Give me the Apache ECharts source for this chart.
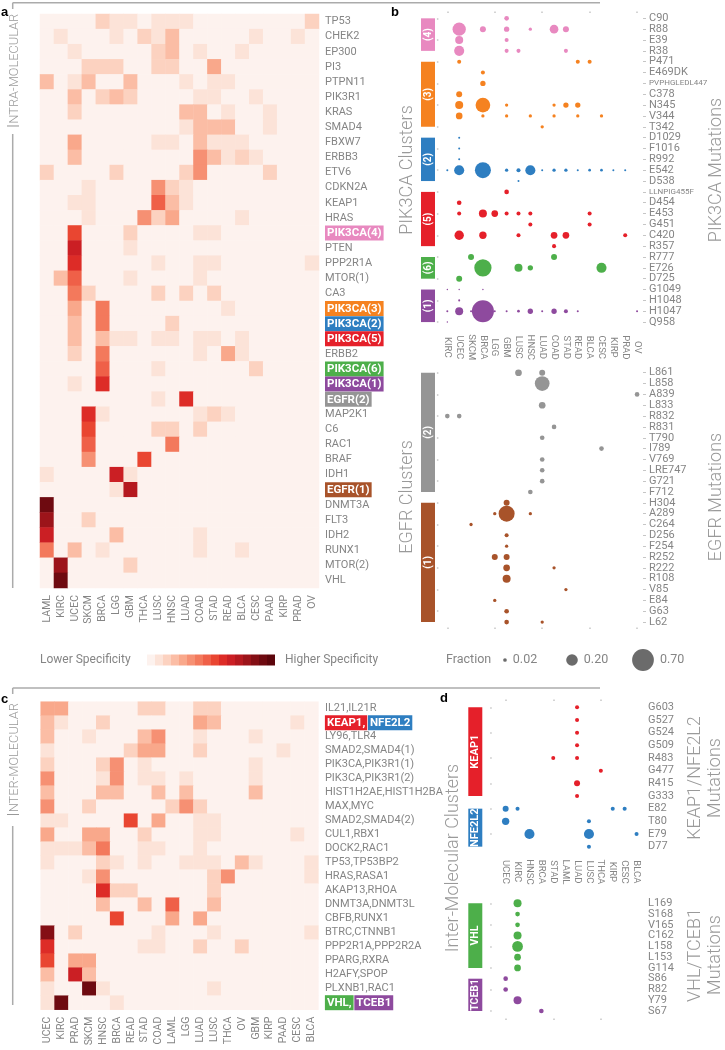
<!DOCTYPE html>
<html><head><meta charset="utf-8">
<script src="https://cdn.jsdelivr.net/npm/echarts@6/dist/echarts.min.js"></script>
<style>html,body{margin:0;padding:0;background:#fff}#chart{width:725px;height:1050px}</style>
</head><body><div id="chart"></div>
<script>
// ================= DATA =================
// Panel a: intra-molecular heatmap
const aCancers = ['LAML','KIRC','UCEC','SKCM','BRCA','LGG','GBM','THCA','LUSC','HNSC','LUAD','COAD','STAD','READ','BLCA','CESC','PAAD','KIRP','PRAD','OV'];
const aGenes = ['TP53','CHEK2','EP300','PI3','PTPN11','PIK3R1','KRAS','SMAD4','FBXW7','ERBB3','ETV6','CDKN2A','KEAP1','HRAS','PIK3CA(4)','PTEN','PPP2R1A','MTOR(1)','CA3','PIK3CA(3)','PIK3CA(2)','PIK3CA(5)','ERBB2','PIK3CA(6)','PIK3CA(1)','EGFR(2)','MAP2K1','C6','RAC1','BRAF','IDH1','EGFR(1)','DNMT3A','FLT3','IDH2','RUNX1','MTOR(2)','VHL'];
// specificity level (0 = background) [gene, cancer, level]
const aLevels = [
 ['TP53','BRCA',2],['TP53','LGG',1],['TP53','GBM',1],['TP53','LUSC',1],['TP53','HNSC',1],['TP53','LUAD',1],['TP53','OV',2],
 ['CHEK2','KIRC',1],['CHEK2','LGG',1],['CHEK2','THCA',2],['CHEK2','LUSC',1],['CHEK2','HNSC',3],['CHEK2','CESC',1],['CHEK2','PRAD',1],
 ['EP300','UCEC',1],['EP300','LUSC',2],['EP300','HNSC',3],['EP300','COAD',1],['EP300','BLCA',1],
 ['PI3','SKCM',2],['PI3','BRCA',2],['PI3','LGG',2],['PI3','LUSC',2],['PI3','HNSC',2],['PI3','STAD',4],
 ['PTPN11','LAML',3],['PTPN11','UCEC',1],['PTPN11','SKCM',3],['PTPN11','GBM',3],['PTPN11','LUAD',1],['PTPN11','STAD',1],['PTPN11','READ',1],
 ['PIK3R1','UCEC',3],['PIK3R1','BRCA',2],['PIK3R1','LGG',3],['PIK3R1','GBM',2],['PIK3R1','COAD',1],['PIK3R1','STAD',1],['PIK3R1','CESC',1],
 ['KRAS','UCEC',2],['KRAS','LUAD',3],['KRAS','COAD',3],['KRAS','READ',1],['KRAS','PAAD',1],
 ['SMAD4','LUAD',1],['SMAD4','COAD',3],['SMAD4','STAD',3],['SMAD4','READ',3],['SMAD4','PAAD',1],
 ['FBXW7','UCEC',4],['FBXW7','LUSC',1],['FBXW7','HNSC',1],['FBXW7','COAD',3],['FBXW7','STAD',1],['FBXW7','READ',1],['FBXW7','BLCA',1],
 ['ERBB3','UCEC',3],['ERBB3','COAD',5],['ERBB3','STAD',3],['ERBB3','READ',1],['ERBB3','BLCA',2],['ERBB3','CESC',1],
 ['ETV6','LAML',2],['ETV6','LGG',2],['ETV6','LUAD',2],['ETV6','COAD',5],['ETV6','PAAD',2],
 ['CDKN2A','SKCM',1],['CDKN2A','LUSC',5],['CDKN2A','HNSC',2],['CDKN2A','LUAD',1],
 ['KEAP1','UCEC',1],['KEAP1','SKCM',1],['KEAP1','LUSC',7],['KEAP1','HNSC',3],['KEAP1','LUAD',1],
 ['HRAS','SKCM',1],['HRAS','THCA',5],['HRAS','LUSC',2],['HRAS','HNSC',4],['HRAS','BLCA',1],
 ['PIK3CA(4)','UCEC',8],['PIK3CA(4)','GBM',2],['PIK3CA(4)','COAD',1],['PIK3CA(4)','STAD',1],
 ['PTEN','UCEC',10],['PTEN','GBM',1],
 ['PPP2R1A','UCEC',9],['PPP2R1A','LUSC',1],['PPP2R1A','COAD',1],['PPP2R1A','STAD',1],['PPP2R1A','OV',1],
 ['MTOR(1)','KIRC',3],['MTOR(1)','UCEC',7],['MTOR(1)','GBM',1],['MTOR(1)','COAD',1],
 ['CA3','UCEC',6],['CA3','SKCM',2],['CA3','LUSC',2],['CA3','LUAD',2],['CA3','STAD',2],
 ['PIK3CA(3)','UCEC',4],['PIK3CA(3)','BRCA',6],['PIK3CA(3)','READ',1],
 ['PIK3CA(2)','UCEC',3],['PIK3CA(2)','BRCA',6],['PIK3CA(2)','HNSC',2],
 ['PIK3CA(5)','UCEC',3],['PIK3CA(5)','BRCA',3],['PIK3CA(5)','LGG',1],['PIK3CA(5)','GBM',1],['PIK3CA(5)','LUSC',1],['PIK3CA(5)','HNSC',1],['PIK3CA(5)','COAD',1],['PIK3CA(5)','STAD',1],['PIK3CA(5)','BLCA',1],
 ['ERBB2','UCEC',2],['ERBB2','BRCA',6],['ERBB2','COAD',1],['ERBB2','READ',4],['ERBB2','BLCA',1],
 ['PIK3CA(6)','BRCA',7],['PIK3CA(6)','LUSC',1],['PIK3CA(6)','CESC',2],
 ['PIK3CA(1)','UCEC',1],['PIK3CA(1)','BRCA',9],
 ['EGFR(2)','LUSC',1],['EGFR(2)','LUAD',9],
 ['MAP2K1','SKCM',9],['MAP2K1','BRCA',1],['MAP2K1','COAD',1],['MAP2K1','STAD',2],['MAP2K1','READ',1],
 ['C6','SKCM',8],['C6','LUSC',2],['C6','HNSC',2],['C6','COAD',2],
 ['RAC1','SKCM',7],['RAC1','HNSC',6],
 ['BRAF','SKCM',5],['BRAF','THCA',8],
 ['IDH1','LAML',1],['IDH1','LGG',10],['IDH1','GBM',1],
 ['EGFR(1)','LGG',1],['EGFR(1)','GBM',11],
 ['DNMT3A','LAML',14],
 ['FLT3','LAML',12],['FLT3','SKCM',2],
 ['IDH2','LAML',10],['IDH2','LGG',3],['IDH2','COAD',1],
 ['RUNX1','LAML',6],['RUNX1','UCEC',3],['RUNX1','BRCA',1],['RUNX1','COAD',1],['RUNX1','BLCA',1],
 ['MTOR(2)','KIRC',12],['MTOR(2)','GBM',2],
 ['VHL','KIRC',14]
];

// Panel c: inter-molecular heatmap
const cCancers = ['UCEC','KIRC','PRAD','SKCM','HNSC','BRCA','READ','STAD','COAD','LAML','LGG','LUAD','LUSC','THCA','OV','GBM','KIRP','PAAD','CESC','BLCA'];
const cPairs = ['IL21,IL21R','KEAP1,NFE2L2','LY96,TLR4','SMAD2,SMAD4(1)','PIK3CA,PIK3R1(1)','PIK3CA,PIK3R1(2)','HIST1H2AE,HIST1H2BA','MAX,MYC','SMAD2,SMAD4(2)','CUL1,RBX1','DOCK2,RAC1','TP53,TP53BP2','HRAS,RASA1','AKAP13,RHOA','DNMT3A,DNMT3L','CBFB,RUNX1','BTRC,CTNNB1','PPP2R1A,PPP2R2A','PPARG,RXRA','H2AFY,SPOP','PLXNB1,RAC1','VHL,TCEB1'];
const cLevels = [
 ['IL21,IL21R','UCEC',4],['IL21,IL21R','KIRC',4],['IL21,IL21R','STAD',2],['IL21,IL21R','COAD',2],['IL21,IL21R','LUAD',2],['IL21,IL21R','LUSC',2],
 ['KEAP1,NFE2L2','UCEC',3],['KEAP1,NFE2L2','KIRC',1],['KEAP1,NFE2L2','HNSC',2],['KEAP1,NFE2L2','LUAD',4],['KEAP1,NFE2L2','LUSC',3],['KEAP1,NFE2L2','CESC',1],
 ['LY96,TLR4','UCEC',3],['LY96,TLR4','SKCM',1],['LY96,TLR4','STAD',3],['LY96,TLR4','COAD',5],['LY96,TLR4','LUAD',1],['LY96,TLR4','GBM',1],
 ['SMAD2,SMAD4(1)','UCEC',1],['SMAD2,SMAD4(1)','READ',2],['SMAD2,SMAD4(1)','STAD',4],['SMAD2,SMAD4(1)','COAD',4],['SMAD2,SMAD4(1)','LUAD',2],['SMAD2,SMAD4(1)','PAAD',1],
 ['PIK3CA,PIK3R1(1)','UCEC',2],['PIK3CA,PIK3R1(1)','HNSC',2],['PIK3CA,PIK3R1(1)','BRCA',5],['PIK3CA,PIK3R1(1)','STAD',1],['PIK3CA,PIK3R1(1)','GBM',1],
 ['PIK3CA,PIK3R1(2)','UCEC',5],['PIK3CA,PIK3R1(2)','HNSC',1],['PIK3CA,PIK3R1(2)','BRCA',5],['PIK3CA,PIK3R1(2)','STAD',1],['PIK3CA,PIK3R1(2)','COAD',1],['PIK3CA,PIK3R1(2)','LGG',1],['PIK3CA,PIK3R1(2)','GBM',1],
 ['HIST1H2AE,HIST1H2BA','UCEC',3],['HIST1H2AE,HIST1H2BA','HNSC',3],['HIST1H2AE,HIST1H2BA','BRCA',3],['HIST1H2AE,HIST1H2BA','COAD',3],['HIST1H2AE,HIST1H2BA','LGG',3],['HIST1H2AE,HIST1H2BA','GBM',3],
 ['MAX,MYC','UCEC',5],['MAX,MYC','SKCM',2],['MAX,MYC','LAML',2],['MAX,MYC','LGG',5],['MAX,MYC','LUAD',2],
 ['SMAD2,SMAD4(2)','UCEC',1],['SMAD2,SMAD4(2)','KIRC',1],['SMAD2,SMAD4(2)','READ',8],['SMAD2,SMAD4(2)','COAD',4],['SMAD2,SMAD4(2)','LUAD',1],['SMAD2,SMAD4(2)','LUSC',1],
 ['CUL1,RBX1','UCEC',4],['CUL1,RBX1','SKCM',4],['CUL1,RBX1','HNSC',4],['CUL1,RBX1','STAD',2],['CUL1,RBX1','LUAD',1],['CUL1,RBX1','LUSC',1],['CUL1,RBX1','CESC',1],
 ['DOCK2,RAC1','UCEC',1],['DOCK2,RAC1','KIRC',1],['DOCK2,RAC1','PRAD',1],['DOCK2,RAC1','SKCM',3],['DOCK2,RAC1','HNSC',6],['DOCK2,RAC1','STAD',1],['DOCK2,RAC1','COAD',1],['DOCK2,RAC1','LUAD',1],
 ['TP53,TP53BP2','UCEC',1],['TP53,TP53BP2','HNSC',2],['TP53,TP53BP2','BRCA',1],['TP53,TP53BP2','STAD',1],['TP53,TP53BP2','LGG',1],['TP53,TP53BP2','LUAD',1],['TP53,TP53BP2','LUSC',1],['TP53,TP53BP2','OV',3],['TP53,TP53BP2','GBM',1],['TP53,TP53BP2','BLCA',1],
 ['HRAS,RASA1','SKCM',1],['HRAS,RASA1','HNSC',5],['HRAS,RASA1','LUSC',2],['HRAS,RASA1','THCA',5],['HRAS,RASA1','BLCA',1],
 ['AKAP13,RHOA','HNSC',9],['AKAP13,RHOA','BRCA',2],['AKAP13,RHOA','READ',2],['AKAP13,RHOA','LUSC',2],
 ['DNMT3A,DNMT3L','HNSC',3],['DNMT3A,DNMT3L','STAD',3],['DNMT3A,DNMT3L','LAML',7],['DNMT3A,DNMT3L','LUSC',3],
 ['CBFB,RUNX1','BRCA',8],['CBFB,RUNX1','LAML',4],['CBFB,RUNX1','LUAD',4],
 ['BTRC,CTNNB1','UCEC',13],['BTRC,CTNNB1','PRAD',2],['BTRC,CTNNB1','COAD',1],['BTRC,CTNNB1','LUSC',1],['BTRC,CTNNB1','BLCA',1],
 ['PPP2R1A,PPP2R2A','UCEC',9],['PPP2R1A,PPP2R2A','STAD',1],['PPP2R1A,PPP2R2A','COAD',1],['PPP2R1A,PPP2R2A','LUAD',2],['PPP2R1A,PPP2R2A','OV',2],
 ['PPARG,RXRA','UCEC',8],['PPARG,RXRA','PRAD',4],['PPARG,RXRA','SKCM',4],
 ['H2AFY,SPOP','UCEC',3],['H2AFY,SPOP','PRAD',10],['H2AFY,SPOP','SKCM',3],
 ['PLXNB1,RAC1','UCEC',1],['PLXNB1,RAC1','SKCM',14],['PLXNB1,RAC1','HNSC',1],['PLXNB1,RAC1','LUSC',1],
 ['VHL,TCEB1','UCEC',1],['VHL,TCEB1','KIRC',14],['VHL,TCEB1','BRCA',1]
];

// Panel b: mutation fractions
const bCancers = ['KIRC','UCEC','SKCM','BRCA','LGG','GBM','LUSC','HNSC','LUAD','COAD','STAD','READ','BLCA','CESC','KIRP','PRAD','OV'];
const pik3caMutations = ['C90','R88','E39','R38','P471','E469DK','PVPHGLEDL447','C378','N345','V344','T342','D1029','F1016','R992','E542','D538','LLNPIG455F','D454','E453','G451','C420','R357','R777','E726','D725','G1049','H1048','H1047','Q958'];
const pik3caClusters = [['(4)',4],['(3)',7],['(2)',5],['(5)',6],['(6)',3],['(1)',4]];
const pik3caPoints = [
 ['C90','GBM',0.032],
 ['R88','UCEC',0.26],['R88','BRCA',0.053],['R88','GBM',0.042],['R88','HNSC',0.016],['R88','COAD',0.11],['R88','STAD',0.053],
 ['E39','UCEC',0.095],['E39','GBM',0.024],
 ['R38','UCEC',0.15],['R38','GBM',0.024],['R38','LUSC',0.024],['R38','STAD',0.024],
 ['P471','UCEC',0.024],['P471','READ',0.024],['P471','BLCA',0.024],
 ['E469DK','BRCA',0.024],
 ['PVPHGLEDL447','BRCA',0.042],
 ['C378','UCEC',0.053],
 ['N345','UCEC',0.095],['N345','BRCA',0.32],['N345','GBM',0.016],['N345','COAD',0.016],['N345','STAD',0.042],['N345','READ',0.042],
 ['V344','UCEC',0.066],['V344','BRCA',0.016],['V344','GBM',0.016],['V344','HNSC',0.016],['V344','COAD',0.016],['V344','READ',0.016],['V344','CESC',0.016],
 ['T342','LUAD',0.016],
 ['D1029','UCEC',0.006],['F1016','UCEC',0.006],['R992','UCEC',0.006],
 ['E542','KIRC',0.006],['E542','UCEC',0.15],['E542','BRCA',0.38],['E542','GBM',0.016],['E542','LUSC',0.024],['E542','HNSC',0.15],['E542','LUAD',0.006],['E542','COAD',0.016],['E542','STAD',0.016],['E542','READ',0.006],['E542','BLCA',0.011],['E542','CESC',0.011],['E542','KIRP',0.006],['E542','PRAD',0.006],
 ['D538','LUSC',0.006],
 ['LLNPIG455F','GBM',0.032],
 ['D454','UCEC',0.032],
 ['E453','UCEC',0.024],['E453','BRCA',0.095],['E453','LGG',0.066],['E453','GBM',0.024],['E453','LUSC',0.024],['E453','HNSC',0.024],['E453','BLCA',0.024],
 ['G451','HNSC',0.024],['G451','BLCA',0.024],
 ['C420','UCEC',0.13],['C420','BRCA',0.08],['C420','LUSC',0.024],['C420','COAD',0.066],['C420','STAD',0.066],['C420','PRAD',0.024],
 ['R357','COAD',0.024],
 ['R777','SKCM',0.053],['R777','COAD',0.053],
 ['E726','BRCA',0.44],['E726','LUSC',0.095],['E726','HNSC',0.042],['E726','CESC',0.15],
 ['D725','UCEC',0.053],
 ['G1049','KIRC',0.003],['G1049','UCEC',0.003],['G1049','BRCA',0.003],
 ['H1048','UCEC',0.006],
 ['H1047','KIRC',0.006],['H1047','UCEC',0.095],['H1047','SKCM',0.006],['H1047','BRCA',0.72],['H1047','LGG',0.006],['H1047','GBM',0.006],['H1047','LUSC',0.011],['H1047','HNSC',0.042],['H1047','LUAD',0.006],['H1047','COAD',0.042],['H1047','STAD',0.024],['H1047','READ',0.006],['H1047','OV',0.006],
 ['Q958','KIRC',0.003]
];
const egfrMutations = ['L861','L858','A839','L833','R832','R831','T790','I789','V769','LRE747','G721','F712','H304','A289','C264','D256','F254','R252','R222','R108','V85','E84','G63','L62'];
const egfrClusters = [['(2)',12],['(1)',12]];
const egfrPoints = [
 ['L861','LUSC',0.066],['L861','LUAD',0.053],['L858','LUAD',0.32],['A839','OV',0.032],['L833','LUAD',0.066],
 ['R832','KIRC',0.032],['R832','UCEC',0.032],['R831','COAD',0.032],['T790','LUAD',0.032],['I789','CESC',0.032],
 ['V769','LUAD',0.032],['LRE747','LUAD',0.032],['G721','LUAD',0.032],['F712','HNSC',0.032],
 ['H304','GBM',0.053],['A289','LGG',0.016],['A289','GBM',0.38],['A289','HNSC',0.016],['C264','SKCM',0.016],
 ['D256','GBM',0.024],['F254','GBM',0.016],['R252','LGG',0.053],['R252','GBM',0.053],['R222','GBM',0.066],['R222','COAD',0.016],
 ['R108','GBM',0.095],['V85','STAD',0.016],['E84','LGG',0.016],['G63','GBM',0.032],['L62','GBM',0.032],['L62','LUAD',0.016]
];

// Panel d
const dCancers = ['UCEC','KIRC','HNSC','BRCA','STAD','LAML','LUAD','LUSC','THCA','KIRP','CESC','BLCA'];
const keapMutations = ['G603','G527','G524','G509','R483','G477','R415','G333','E82','T80','E79','D77'];
const keapClusters = [['KEAP1',8],['NFE2L2',4]];
const keapPoints = [
 ['G603','LUAD',0.024],['G527','LUAD',0.024],['G524','LUAD',0.024],['G509','LUAD',0.024],
 ['R483','STAD',0.024],['R483','LUAD',0.024],['G477','THCA',0.024],['R415','LUAD',0.053],['G333','LUAD',0.024],
 ['E82','UCEC',0.053],['E82','KIRC',0.024],['E82','KIRP',0.024],['E82','CESC',0.024],
 ['T80','UCEC',0.08],['T80','LUSC',0.024],['E79','HNSC',0.15],['E79','LUSC',0.15],['E79','BLCA',0.024],['D77','LUSC',0.024]
];
const vhlMutations = ['L169','S168','V165','C162','L158','L153','G114','S86','R82','Y79','S67'];
const vhlClusters = [['VHL',7],['TCEB1',4]];
const vhlPoints = [
 ['L169','KIRC',0.095],['S168','KIRC',0.032],['V165','KIRC',0.032],['C162','KIRC',0.095],['L158','KIRC',0.17],
 ['L153','KIRC',0.066],['G114','KIRC',0.066],['S86','UCEC',0.032],['R82','UCEC',0.032],['Y79','KIRC',0.095],['S67','BRCA',0.032]
];
const fractionLegend = [0.02, 0.20, 0.70];

// ================= STYLE =================
const FONT = 'Roboto, "Liberation Sans", Arial, sans-serif';
const GRAY = '#858585';
const TICK = '#c6c6c6';
const palette = ['#FDF2EE','#FCE3D8','#FCD2C0','#FBBDA5','#F9A88B','#F69073','#F3795C','#EF6048','#E94631','#DD2C27','#CB1F24','#B5191F','#9C141A','#840F15','#6E0A10','#5C050B'];
const C = {pink:'#E889C0', orange:'#F58220', blue:'#2E7EC1', red:'#E5202A', green:'#4DAF4A', purple:'#8E4A9E', gray:'#959595', brown:'#A8532A'};
const pikColors = [C.pink, C.orange, C.blue, C.red, C.green, C.purple];
const egfrColors = [C.gray, C.brown];
const keapColors = [C.red, C.blue];
const vhlColors = [C.green, C.purple];
const aTags = {'PIK3CA(4)':C.pink,'PIK3CA(3)':C.orange,'PIK3CA(2)':C.blue,'PIK3CA(5)':C.red,'PIK3CA(6)':C.green,'PIK3CA(1)':C.purple,'EGFR(2)':C.gray,'EGFR(1)':C.brown};

// ================= HELPERS =================
function matrix(rows, cols, triples) {
  const m = {};
  triples.forEach(t => { m[t[0] + '|' + t[1]] = t[2]; });
  const out = [];
  rows.forEach((r, ri) => cols.forEach((c, ci) => out.push([ci, ri, m[r + '|' + c] || 0])));
  return out;
}
function points(rows, cols, pts) { return pts.map(p => [cols.indexOf(p[1]), rows.indexOf(p[0]), p[2]]); }
function rowColors(clusters, colors) { const a = []; clusters.forEach((c, i) => { for (let k = 0; k < c[1]; k++) a.push(colors[i]); }); return a; }
function clusterData(clusters) { let s = 0; return clusters.map((c, i) => { const d = [0, s, s + c[1] - 1, i]; s += c[1]; return d; }); }
const sizeOf = f => 26 * Math.sqrt(f);

const tagRich = {};
Object.keys(aTags).forEach((k, i) => { tagRich['t' + i] = {color:'#fff', fontWeight:'bold', fontSize:11.5, fontFamily:FONT, backgroundColor:aTags[k], padding:[2,2,1,2]}; });
const tagKeys = Object.keys(aTags);

function tickX(grid, data, position, extra) {
  return Object.assign({type:'category', gridIndex:grid, data, position, axisLine:{show:false}, axisLabel:{show:false},
    axisTick:{show:true, alignWithLabel:true, length:1.5, lineStyle:{color:TICK, width:1.5}}, splitLine:{show:false}}, extra || {});
}
function labelX(grid, data, margin) {
  return {type:'category', gridIndex:grid, data, position:'top', axisLine:{show:false}, axisTick:{show:false},
    axisLabel:{rotate:90, margin, fontSize:9.5, color:GRAY, fontFamily:FONT, interval:0, align:'center', verticalAlign:'middle'}, splitLine:{show:false}};
}
function rightY(grid, data, margin, tick) {
  return {type:'category', gridIndex:grid, data, inverse:true, position:'right', axisLine:{show:false},
    axisTick:{show:tick, alignWithLabel:true, length:3, lineStyle:{color:TICK, width:1}},
    axisLabel:{margin, fontSize:11, color:GRAY, fontFamily:FONT, interval:0,
      formatter: v => v.length > 8 ? '{n|' + v + '}' : v, rich:{n:{fontSize:8, color:GRAY, fontFamily:FONT}}}};
}
function leftY(grid, data, offset) {
  return {type:'category', gridIndex:grid, data, inverse:true, position:'left', offset, axisLine:{show:false}, axisLabel:{show:false},
    axisTick:{show:true, alignWithLabel:true, length:1.5, lineStyle:{color:TICK, width:1.5}}};
}
function bubbleSeries(xi, yi, rows, cols, pts, clusters, colors) {
  const rc = rowColors(clusters, colors);
  return {type:'scatter', xAxisIndex:xi, yAxisIndex:yi, data:points(rows, cols, pts), symbol:'circle',
    symbolSize: v => sizeOf(v[2]), itemStyle:{color: p => rc[p.data[1]], opacity:1}, silent:true, z:4};
}
function clusterSeries(xi, yi, clusters, colors, gap, barW, fontSize) {
  return {type:'custom', xAxisIndex:xi, yAxisIndex:yi, data:clusterData(clusters), encode:{x:0, y:[1,2]}, silent:true, clip:false, z:3,
    renderItem: (params, api) => {
      const s = api.coord([0, api.value(1)]);
      const e = api.coord([0, api.value(2)]);
      const cw = api.size([1, 0])[0];
      const right = s[0] - cw / 2 - gap;
      const x = right - barW;
      const y0 = Math.min(s[1], e[1]);
      const h = Math.abs(e[1] - s[1]);
      const idx = api.value(3);
      return {type:'group', children:[
        {type:'rect', shape:{x, y:y0, width:barW, height:h}, style:{fill:colors[idx]}},
        {type:'text', x:x + barW / 2, y:y0 + h / 2, rotation:Math.PI / 2,
          style:{text:clusters[idx][0], fill:'#fff', fontWeight:'bold', fontSize, fontFamily:FONT, align:'center', verticalAlign:'middle'}}
      ]};
    }};
}
function vtitle(x, y, text) {
  return {type:'text', x, y, rotation:Math.PI / 2, style:{text, fill:'#9a9a9a', fontSize:18, fontWeight:300, fontFamily:FONT, align:'center', verticalAlign:'middle', lineHeight:20}};
}

// ================= OPTION =================
const grids = [
  {left:40, top:14, width:279, height:574},
  {left:40.7, top:701.7, width:277.7, height:308},
  {left:441.4, top:12.9, width:201.6, height:314.6},
  {left:441.4, top:367.3, width:201.6, height:260.2},
  {left:499.7, top:701, width:142.8, height:152},
  {left:499.7, top:897.9, width:142.8, height:118.5}
];
const heatX = (grid, data) => ({type:'category', gridIndex:grid, data, position:'bottom', axisLine:{show:false}, axisTick:{show:false},
  axisLabel:{rotate:90, margin:7, fontSize:10.5, color:GRAY, fontFamily:FONT, interval:0}, splitLine:{show:false}});

const xAxes = [
  heatX(0, aCancers),
  heatX(1, cCancers),
  tickX(2, bCancers, 'top'),
  labelX(3, bCancers, 20),
  tickX(3, bCancers, 'bottom'),
  tickX(4, dCancers, 'top'),
  labelX(5, dCancers, 26),
  tickX(5, dCancers, 'bottom', {offset:2})
];
const yAxes = [
  {type:'category', gridIndex:0, data:aGenes, inverse:true, position:'right', axisLine:{show:false}, axisTick:{show:false},
    axisLabel:{margin:6, fontSize:11, color:GRAY, fontFamily:FONT, interval:0,
      formatter: v => aTags[v] ? '{t' + tagKeys.indexOf(v) + '|' + v + '}' : v, rich:tagRich}},
  {type:'category', gridIndex:1, data:cPairs, inverse:true, position:'right', axisLine:{show:false}, axisTick:{show:false},
    axisLabel:{margin:6.5, fontSize:11, color:GRAY, fontFamily:FONT, interval:0,
      formatter: v => {
        if (v === 'KEAP1,NFE2L2') return '{r|KEAP1,}{sp| }{b|NFE2L2}';
        if (v === 'VHL,TCEB1') return '{g|VHL,}{sp| }{p|TCEB1}';
        return v;
      },
      rich:{
        r:{color:'#fff', fontWeight:'bold', fontSize:11.5, fontFamily:FONT, backgroundColor:C.red, padding:[2,2,1,2]},
        b:{color:'#fff', fontWeight:'bold', fontSize:11.5, fontFamily:FONT, backgroundColor:C.blue, padding:[2,2,1,2]},
        g:{color:'#fff', fontWeight:'bold', fontSize:11.5, fontFamily:FONT, backgroundColor:C.green, padding:[2,2,1,2]},
        p:{color:'#fff', fontWeight:'bold', fontSize:11.5, fontFamily:FONT, backgroundColor:C.purple, padding:[2,2,1,2]},
        sp:{fontSize:3}
      }}},
  rightY(2, pik3caMutations, 6, true), leftY(2, pik3caMutations, 3),
  rightY(3, egfrMutations, 6, true), leftY(3, egfrMutations, 3),
  rightY(4, keapMutations, 5.5, false), leftY(4, keapMutations, 8),
  rightY(5, vhlMutations, 5.5, false), leftY(5, vhlMutations, 8)
];

const series = [
  {type:'heatmap', xAxisIndex:0, yAxisIndex:0, data:matrix(aGenes, aCancers, aLevels), silent:true, emphasis:{disabled:true}},
  {type:'heatmap', xAxisIndex:1, yAxisIndex:1, data:matrix(cPairs, cCancers, cLevels), silent:true, emphasis:{disabled:true}},
  clusterSeries(2, 2, pik3caClusters, pikColors, 6.4, 14, 10),
  bubbleSeries(2, 2, pik3caMutations, bCancers, pik3caPoints, pik3caClusters, pikColors),
  clusterSeries(3, 4, egfrClusters, egfrColors, 6.4, 14, 10),
  bubbleSeries(3, 4, egfrMutations, bCancers, egfrPoints, egfrClusters, egfrColors),
  clusterSeries(5, 6, keapClusters, keapColors, 17.4, 14, 11),
  bubbleSeries(5, 6, keapMutations, dCancers, keapPoints, keapClusters, keapColors),
  clusterSeries(6, 8, vhlClusters, vhlColors, 17.4, 14, 10.5),
  bubbleSeries(6, 8, vhlMutations, dCancers, vhlPoints, vhlClusters, vhlColors)
];

// Fraction legend (sizes from the same scale as bubbles)
const fracX = [505, 572, 643];
const fracGraphics = [{type:'text', x:446, y:660, style:{text:'Fraction', fill:GRAY, fontSize:12.5, fontFamily:FONT, verticalAlign:'middle'}}];
fractionLegend.forEach((f, i) => {
  const r = sizeOf(f) / 2;
  fracGraphics.push({type:'circle', shape:{cx:fracX[i], cy:660, r}, style:{fill:'#6b6b6b'}});
  fracGraphics.push({type:'text', x:fracX[i] + r + 6, y:660, style:{text:f.toFixed(2), fill:GRAY, fontSize:12.5, fontFamily:FONT, verticalAlign:'middle'}});
});

const lineStyle = {stroke:'#ababab', lineWidth:1.5};
const bracketText = (y, body) => ({type:'text', x:15, y, rotation:Math.PI / 2,
  style:{text:'{b|I}{s|' + body + '}', align:'center', verticalAlign:'middle',
    rich:{b:{fontSize:17, fill:'#999', fontFamily:FONT, fontWeight:300}, s:{fontSize:12.8, fill:'#999', fontFamily:FONT, fontWeight:300}}}});

const graphic = [
  {type:'line', shape:{x1:12.7, y1:2.7, x2:600, y2:2.7}, style:lineStyle},
  {type:'line', shape:{x1:12.7, y1:2.7, x2:12.7, y2:9}, style:lineStyle},
  {type:'line', shape:{x1:12.7, y1:134, x2:12.7, y2:588}, style:lineStyle},
  {type:'line', shape:{x1:12.7, y1:688, x2:600, y2:688}, style:lineStyle},
  {type:'line', shape:{x1:12.7, y1:688, x2:12.7, y2:694}, style:lineStyle},
  {type:'line', shape:{x1:12.7, y1:826, x2:12.7, y2:1005}, style:lineStyle},
  bracketText(71, 'NTRA-MOLECULAR'),
  bracketText(760, 'NTER-MOLECULAR'),
  {type:'text', x:1, y:12, style:{text:'a', fill:'#000', fontWeight:'bold', fontSize:13, fontFamily:'"Liberation Sans", Arial', verticalAlign:'middle'}},
  {type:'text', x:391, y:12, style:{text:'b', fill:'#000', fontWeight:'bold', fontSize:13, fontFamily:'"Liberation Sans", Arial', verticalAlign:'middle'}},
  {type:'text', x:1, y:699, style:{text:'c', fill:'#000', fontWeight:'bold', fontSize:13, fontFamily:'"Liberation Sans", Arial', verticalAlign:'middle'}},
  {type:'text', x:440, y:698, style:{text:'d', fill:'#000', fontWeight:'bold', fontSize:13, fontFamily:'"Liberation Sans", Arial', verticalAlign:'middle'}},
  {type:'text', x:40, y:660, style:{text:'Lower Specificity', fill:GRAY, fontSize:12, fontFamily:FONT, verticalAlign:'middle'}},
  {type:'text', x:285, y:660, style:{text:'Higher Specificity', fill:GRAY, fontSize:12, fontFamily:FONT, verticalAlign:'middle'}},
  vtitle(407, 170, 'PIK3CA Clusters'),
  vtitle(716, 170, 'PIK3CA Mutations'),
  vtitle(407, 497, 'EGFR Clusters'),
  vtitle(716, 497, 'EGFR Mutations'),
  vtitle(453, 858, 'Inter-Molecular Clusters'),
  vtitle(705, 778, 'KEAP1/NFE2L2\nMutations'),
  vtitle(705, 955, 'VHL/TCEB1\nMutations')
].concat(fracGraphics);

const option = {
  animation:false,
  backgroundColor:'#fff',
  grid:grids,
  xAxis:xAxes,
  yAxis:yAxes,
  visualMap:{
    type:'piecewise', seriesIndex:[0,1], orient:'horizontal', left:147, top:654.5,
    pieces: palette.map((c, i) => ({value:i, color:c})),
    itemWidth:8, itemHeight:11, itemGap:0, itemSymbol:'rect', showLabel:false,
    selectedMode:false, hoverLink:false, padding:0
  },
  series,
  graphic
};
const chart = echarts.init(document.getElementById('chart'), null, {renderer:'canvas', width:725, height:1050});
chart.setOption(option);
</script>
</body></html>
